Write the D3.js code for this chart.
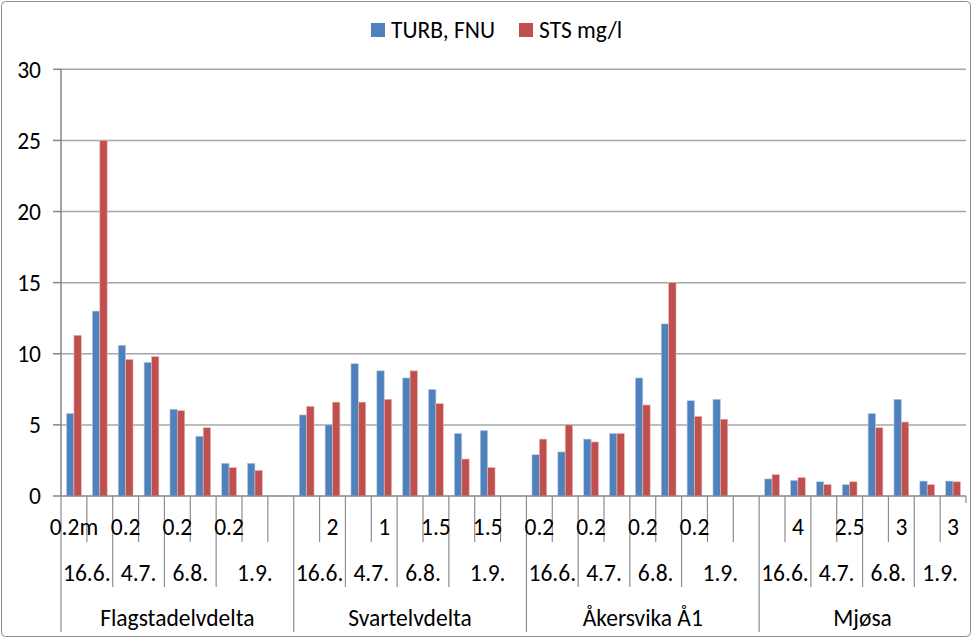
<!DOCTYPE html>
<html>
<head>
<meta charset="utf-8">
<script src="https://cdn.jsdelivr.net/npm/d3@7"></script>
<style>
  body { margin: 0; background: #fff; }
  svg text { font-family: Carlito, Calibri, "Noto Sans", sans-serif; fill: #000; }
</style>
</head>
<body>
<div id="chart"></div>
<script>
// one entry per category slot: site, date, depth label
const sites = ['Flagstadelvdelta', 'Svartelvdelta', 'Åkersvika Å1', 'Mjøsa'];
const slotSite = [
  0, 0, 0, 0, 0, 0, 0, 0, 0,
  1, 1, 1, 1, 1, 1, 1, 1, 1,
  2, 2, 2, 2, 2, 2, 2, 2, 2,
  3, 3, 3, 3, 3, 3, 3, 3
];
const slotDate = [
  '16.6.', '16.6.', '4.7.', '4.7.', '6.8.', '6.8.', '1.9.', '1.9.', '1.9.',
  '16.6.', '16.6.', '4.7.', '4.7.', '6.8.', '6.8.', '1.9.', '1.9.', '1.9.',
  '16.6.', '16.6.', '4.7.', '4.7.', '6.8.', '6.8.', '1.9.', '1.9.', '1.9.',
  '16.6.', '16.6.', '4.7.', '4.7.', '6.8.', '6.8.', '1.9.', '1.9.'
];
const slotDepth = [
  '0.2m', '', '0.2', '', '0.2', '', '0.2', '', '',
  '', '2', '', '1', '', '1.5', '', '1.5', '',
  '0.2', '', '0.2', '', '0.2', '', '0.2', '', '',
  '', '4', '', '2.5', '', '3', '', '3'
];
const seriesNames = ['TURB, FNU', 'STS mg/l'];
const turb = [
  5.8, 13.0, 10.6, 9.4, 6.1, 4.2, 2.3, 2.3, null,
  5.7, 5.0, 9.3, 8.8, 8.3, 7.5, 4.4, 4.6, null,
  2.9, 3.1, 4.0, 4.4, 8.3, 12.1, 6.7, 6.8, null,
  1.2, 1.1, 1.0, 0.8, 5.8, 6.8, 1.05, 1.05
];
const sts = [
  11.3, 25.0, 9.6, 9.8, 6.0, 4.8, 2.0, 1.8, null,
  6.3, 6.6, 6.6, 6.8, 8.8, 6.5, 2.6, 2.0, null,
  4.0, 5.0, 3.8, 4.4, 6.4, 15.0, 5.6, 5.4, null,
  1.5, 1.3, 0.8, 1.0, 4.8, 5.2, 0.8, 1.0
];
const yTicks = [0, 5, 10, 15, 20, 25, 30];
const colors = ['#4F81BD', '#C0504D'];

const width = 972, height = 639;
const plotLeft = 61, plotRight = 966, plotTop = 69.3, plotBase = 496;
const fontSize = 23.5;

const svg = d3.select('#chart').append('svg')
  .attr('width', width)
  .attr('height', height);

svg.append('rect')
  .attr('x', 1.5).attr('y', 1.5)
  .attr('width', width - 3).attr('height', height - 4)
  .attr('rx', 4)
  .style('fill', '#fff')
  .style('stroke', '#8c8c8c');

const y = d3.scaleLinear().domain([0, 30]).range([plotBase, plotTop]);
const idx = d3.range(slotSite.length);
const x = d3.scaleBand().domain(idx).range([plotLeft, plotRight]).paddingInner(0).paddingOuter(0);
const x1 = d3.scaleBand().domain(seriesNames).range([0, x.bandwidth()])
  .paddingInner(0).paddingOuter(0.75);

// gridlines
svg.append('g').classed('grid', true)
  .selectAll('line')
  .data(yTicks.slice(1))
  .enter()
  .append('line')
  .attr('x1', plotLeft).attr('x2', plotRight)
  .attr('y1', d => y(d)).attr('y2', d => y(d))
  .style('stroke', '#a6a6a6')
  .style('stroke-width', 1.5);

// y axis
svg.append('line')
  .attr('x1', plotLeft).attr('x2', plotLeft)
  .attr('y1', plotTop).attr('y2', plotBase)
  .style('stroke', '#868686').style('stroke-width', 1.5);
svg.append('g').classed('y-ticks', true)
  .selectAll('line')
  .data(yTicks)
  .enter()
  .append('line')
  .attr('x1', plotLeft - 8).attr('x2', plotLeft)
  .attr('y1', d => y(d)).attr('y2', d => y(d))
  .style('stroke', '#868686').style('stroke-width', 1.5);
svg.append('g').classed('y-labels', true)
  .selectAll('text')
  .data(yTicks)
  .enter()
  .append('text')
  .attr('x', 41)
  .attr('y', d => y(d))
  .attr('dy', '0.35em')
  .attr('text-anchor', 'end')
  .style('font-size', fontSize + 'px')
  .text(d => d);

// bars
const seriesData = [turb, sts];
seriesData.forEach((vals, s) => {
  svg.append('g').classed(`series${s}`, true)
    .selectAll('rect')
    .data(idx.filter(i => vals[i] != null))
    .enter()
    .append('rect')
    .attr('x', i => x(i) + x1(seriesNames[s]))
    .attr('y', i => y(vals[i]))
    .attr('width', x1.bandwidth())
    .attr('height', i => plotBase - y(vals[i]))
    .style('fill', colors[s])
    .style('stroke', s === 0 ? '#b9cde5' : '#e6b9b8')
    .style('stroke-width', 0.6);
});

// x axis baseline
svg.append('line')
  .attr('x1', plotLeft).attr('x2', plotRight)
  .attr('y1', plotBase).attr('y2', plotBase)
  .style('stroke', '#868686').style('stroke-width', 1.5);

// multi-level category separators
const rowDepth = 542, rowDate = 587, rowSite = 632;
const bounds = d3.range(slotSite.length + 1);
svg.append('g').classed('x-lines', true)
  .selectAll('line')
  .data(bounds)
  .enter()
  .append('line')
  .attr('x1', i => x(0) + i * x.step())
  .attr('x2', i => x(0) + i * x.step())
  .attr('y1', plotBase)
  .attr('y2', i => {
    if (i === slotSite.length) return plotBase + 7;
    if (i === 0 || slotSite[i] !== slotSite[i - 1]) return rowSite;
    if (slotDate[i] !== slotDate[i - 1]) return rowDate;
    return rowDepth;
  })
  .style('stroke', '#8c8c8c')
  .style('stroke-width', 1.2);

// depth labels
svg.append('g').classed('depth-labels', true)
  .selectAll('text')
  .data(idx.filter(i => slotDepth[i] !== ''))
  .enter()
  .append('text')
  .attr('x', i => x(i) + x.bandwidth() / 2)
  .attr('y', 527)
  .attr('dy', '0.35em')
  .attr('text-anchor', 'middle')
  .style('font-size', fontSize + 'px')
  .text(i => slotDepth[i]);

// group runs of equal keys
function runs(keyFn) {
  const out = [];
  idx.forEach(i => {
    const k = keyFn(i);
    const last = out[out.length - 1];
    if (last && last.key === k) last.end = i;
    else out.push({key: k, start: i, end: i});
  });
  return out;
}

const dateRuns = runs(i => slotSite[i] + '|' + slotDate[i]);
svg.append('g').classed('date-labels', true)
  .selectAll('text')
  .data(dateRuns)
  .enter()
  .append('text')
  .attr('x', d => (x(d.start) + x(d.end) + x.bandwidth()) / 2)
  .attr('y', 573)
  .attr('dy', '0.35em')
  .attr('text-anchor', 'middle')
  .style('font-size', fontSize + 'px')
  .text(d => slotDate[d.start]);

const siteRuns = runs(i => slotSite[i]);
svg.append('g').classed('site-labels', true)
  .selectAll('text')
  .data(siteRuns)
  .enter()
  .append('text')
  .attr('x', d => (x(d.start) + x(d.end) + x.bandwidth()) / 2)
  .attr('y', 618)
  .attr('dy', '0.35em')
  .attr('text-anchor', 'middle')
  .style('font-size', fontSize + 'px')
  .text(d => sites[d.key]);

// legend
const legendX = [371, 519];
const legend = svg.append('g').classed('legend', true)
  .selectAll('g')
  .data(seriesNames)
  .enter()
  .append('g')
  .attr('transform', (d, i) => `translate(${legendX[i]}, 30)`);
legend.append('rect')
  .attr('x', 0).attr('y', -7)
  .attr('width', 14).attr('height', 14)
  .style('fill', (d, i) => colors[i]);
legend.append('text')
  .attr('x', 20)
  .attr('y', 0)
  .attr('dy', '0.35em')
  .style('font-size', fontSize + 'px')
  .text(d => d);
</script>
</body>
</html>
